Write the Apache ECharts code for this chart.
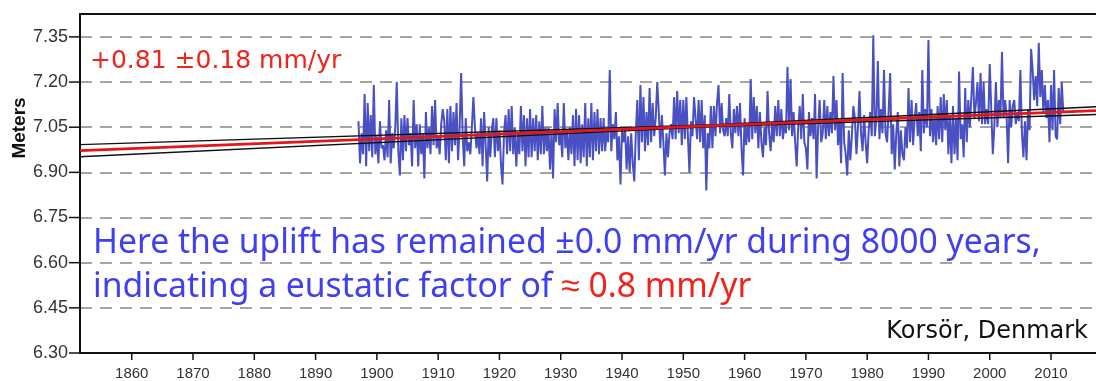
<!DOCTYPE html>
<html>
<head>
<meta charset="utf-8">
<script src="https://cdn.jsdelivr.net/npm/echarts@6/dist/echarts.min.js"></script>
<style>html,body{margin:0;padding:0;background:#fff}#c{width:1096px;height:381px}</style>
</head>
<body>
<div id="c"></div>
<script>
// ---- data ----
const firstYear = 1897;
const samplesPerYear = 4;
const seaLevel = [
7.07,6.93,7.03,6.96, 7.16,6.92,7.13,6.97, 7.09,6.95,7.19,6.96, 7.02,6.93,7.07,6.98,
6.99,6.94,7.04,6.95, 7.14,6.93,7.03,6.98, 7.05,7.20,6.97,6.89, 7.08,6.94,7.09,6.97,
7.08,6.99,7.03,6.92, 7.14,6.98,7.06,6.92, 7.06,6.96,7.03,6.88, 7.10,6.98,7.05,6.96,
7.12,6.99,7.14,6.98, 7.02,6.96,7.06,7.11, 7.07,6.94,7.11,6.93, 7.12,6.97,7.10,6.99,
7.13,6.94,7.05,7.23, 7.02,6.92,7.08,6.97, 7.00,6.96,7.05,7.15, 7.05,6.98,7.03,6.96,
7.08,6.92,7.10,6.99, 6.87,7.05,6.95,7.04, 7.08,6.95,7.08,6.97, 7.04,6.93,6.86,7.03,
7.09,6.96,7.11,6.97, 7.12,6.96,7.05,6.92, 7.03,6.96,7.12,6.97, 7.09,6.92,7.08,6.95,
7.11,6.95,7.08,6.97, 7.09,6.94,7.07,6.96, 7.12,6.96,7.05,6.97, 7.05,6.91,7.04,6.88,
7.11,7.00,7.13,6.99, 7.03,6.95,7.13,6.98, 7.04,6.94,7.05,6.96, 7.09,6.92,7.11,6.94,
7.09,6.93,7.06,6.95, 7.13,6.92,7.08,6.95, 7.13,6.94,7.10,6.97, 7.11,6.96,7.08,6.97,
7.08,6.97,7.04,7.00, 7.24,6.97,7.06,7.01, 7.10,6.94,7.02,6.86, 7.04,7.00,7.05,6.91,
7.02,6.90,7.03,6.93, 6.87,7.03,7.14,6.94, 7.19,7.00,7.15,6.97, 7.10,6.99,7.18,7.00,
7.13,7.02,7.08,7.20, 7.10,6.98,7.09,7.00, 6.89,7.03,6.95,7.03, 7.06,7.01,7.15,7.01,
7.17,7.03,7.14,6.99, 7.14,7.01,7.15,7.02, 6.90,7.07,7.02,7.15, 7.15,7.01,7.14,7.00,
7.14,6.98,7.09,6.84, 7.03,6.98,7.12,6.98, 7.12,7.02,7.13,7.19, 7.03,7.13,7.04,7.02,
7.08,7.02,7.16,7.03, 6.98,7.11,7.03,7.12, 7.02,7.13,6.98,6.89, 7.08,6.99,7.06,7.00,
7.21,7.01,7.15,7.03, 7.12,6.98,7.10,7.00, 6.95,7.05,6.99,7.17, 7.03,6.97,7.06,7.00,
7.12,7.02,7.14,7.02, 7.11,7.01,7.06,7.03, 7.25,7.04,7.21,7.02, 7.10,7.00,6.92,7.05,
7.12,7.01,7.16,7.00, 6.98,6.91,7.10,7.02, 7.08,7.01,7.16,6.88, 7.05,7.14,7.00,7.03,
7.14,7.01,7.12,7.02, 7.10,7.03,7.22,7.04, 7.14,6.99,7.07,6.93, 7.23,7.00,6.96,6.89,
7.04,6.94,7.02,7.12, 7.08,6.96,7.05,7.17, 7.03,6.97,7.09,7.00, 6.93,7.04,7.10,7.02,
7.355,7.02,7.08,7.27, 7.01,7.11,7.03,7.24, 7.03,7.00,7.10,7.23, 6.96,7.06,6.91,7.03,
7.10,6.92,7.04,6.96, 6.94,7.05,6.98,7.18, 7.00,7.14,6.99,7.08, 7.13,7.02,7.10,6.97,
7.24,7.03,7.11,7.05, 7.34,7.02,7.11,7.00, 7.09,6.99,7.12,7.01, 7.15,7.00,7.16,7.04,
7.14,6.96,7.09,6.93, 7.12,6.96,7.08,6.94, 7.235,7.01,7.06,6.95, 7.18,7.00,7.14,7.05,
7.05,7.25,7.08,7.13, 7.20,7.07,7.23,7.06, 7.20,7.06,7.11,7.06, 7.26,7.11,6.96,7.05,
7.20,7.05,7.14,7.08, 7.30,7.08,7.14,7.09, 6.93,7.14,7.05,7.12, 7.14,7.06,7.10,7.07,
7.24,7.03,6.95,7.07, 6.94,7.11,7.04,7.31, 7.24,7.14,7.22,7.12, 7.33,7.15,7.24,7.10,
7.19,7.08,7.14,7.00, 7.19,7.04,7.24,7.02, 7.01,7.18,7.06,7.20, 7.10
];
// linear trend (+0.81 mm/yr) and its confidence band
const trendYears = [1851.56, 1955, 2017.34];
const trendMid   = [6.972, 7.055, 7.105];
const trendUpper = [6.992, 7.058, 7.118];
const trendLower = [6.952, 7.052, 7.092];
const xTicks = [1860,1870,1880,1890,1900,1910,1920,1930,1940,1950,1960,1970,1980,1990,2000,2010];
const yTicks = [6.30,6.45,6.60,6.75,6.90,7.05,7.20,7.35];
const xMin = 1851.56, xMax = 2017.34, yMin = 6.30, yMax = 7.426;

const seaData = seaLevel.map((v, i) => [firstYear + i / samplesPerYear, v]);
const pair = (ys) => trendYears.map((x, i) => [x, ys[i]]);

// tick marks placed through the axis scales
const tickSeries = (vals, isX) => ({
  type: 'custom', silent: true, clip: false, z: 6,
  data: vals.map(v => isX ? [v, yMin] : [xMin, v]),
  encode: { x: 0, y: 1 },
  renderItem: (params, api) => {
    const p = api.coord([api.value(0), api.value(1)]);
    const shape = isX ? { x1: p[0], y1: p[1], x2: p[0], y2: p[1] + 7 }
                      : { x1: p[0] - 11, y1: p[1], x2: p[0], y2: p[1] };
    return { type: 'line', shape, style: { stroke: '#111', lineWidth: 1.5 } };
  }
});

const chart = echarts.init(document.getElementById('c'));
chart.setOption({
  animation: false,
  backgroundColor: '#fff',
  grid: { left: 80, right: 0, top: 14, bottom: 27 },
  xAxis: [{
    type: 'value', min: xMin, max: xMax, position: 'bottom',
    axisLine: { show: true, onZero: false, lineStyle: { color: '#111', width: 2 } },
    axisTick: { show: false },
    axisLabel: { customValues: xTicks, margin: 13, color: '#333', fontSize: 15, fontFamily: 'Liberation Sans, Arial, sans-serif',
      formatter: (v) => String(Math.round(v)) },
    splitLine: { show: false }
  }, {
    type: 'value', min: xMin, max: xMax, position: 'top',
    axisLine: { show: true, onZero: false, lineStyle: { color: '#111', width: 2 } },
    axisTick: { show: false }, axisLabel: { show: false }, splitLine: { show: false }
  }],
  yAxis: {
    type: 'value', min: yMin, max: yMax, interval: 0.15,
    axisLine: { show: true, onZero: false, lineStyle: { color: '#111', width: 2 } },
    axisTick: { show: false },
    axisLabel: { customValues: yTicks, margin: 12, color: '#333', fontSize: 18, fontFamily: 'Liberation Sans, Arial, sans-serif',
      formatter: (v) => v.toFixed(2) },
    splitLine: { show: true, lineStyle: { color: '#868686', width: 1.5, type: [12, 8] } }
  },
  series: [{
    type: 'line', data: seaData, showSymbol: false, symbol: 'none',
    lineStyle: { color: '#4850c2', width: 2 }, z: 2
  }, {
    type: 'line', data: pair(trendUpper), showSymbol: false, symbol: 'none',
    lineStyle: { color: '#111', width: 1.4 }, z: 3
  }, {
    type: 'line', data: pair(trendLower), showSymbol: false, symbol: 'none',
    lineStyle: { color: '#111', width: 1.4 }, z: 3
  }, {
    type: 'line', data: pair(trendMid), showSymbol: false, symbol: 'none',
    lineStyle: { color: '#e5161a', width: 2.8 }, z: 4
  }, tickSeries(xTicks, true), tickSeries(yTicks, false)],
  graphic: [{
    type: 'text', x: 20, y: 128, rotation: Math.PI / 2,
    style: { text: 'Meters', fill: '#111', font: 'bold 19px "Liberation Sans", Arial, sans-serif', align: 'center', verticalAlign: 'middle' }
  }, {
    type: 'text', x: 90, y: 61,
    style: { text: '+0.81 ±0.18 mm/yr', fill: '#f2231b', font: '25px "DejaVu Sans", sans-serif', align: 'left', verticalAlign: 'middle' }
  }, {
    type: 'text', x: 93, y: 243,
    style: { text: 'Here the uplift has remained ±0.0 mm/yr during 8000 years,', fill: '#4040f2', font: '33.7px "Noto Sans", sans-serif', align: 'left', verticalAlign: 'middle' }
  }, {
    type: 'text', x: 93, y: 287,
    style: { text: '{b|indicating a eustatic factor of }{r|≈ 0.8 mm/yr}', align: 'left', verticalAlign: 'middle',
      rich: { b: { fill: '#4040f2', font: '33.7px "Noto Sans", sans-serif' }, r: { fill: '#f2231b', font: '33.7px "Noto Sans", sans-serif' } } }
  }, {
    type: 'text', x: 1088, y: 332,
    style: { text: 'Korsör, Denmark', fill: '#111', font: '24px "DejaVu Sans", sans-serif', align: 'right', verticalAlign: 'middle' }
  }]
});
</script>
</body>
</html>
